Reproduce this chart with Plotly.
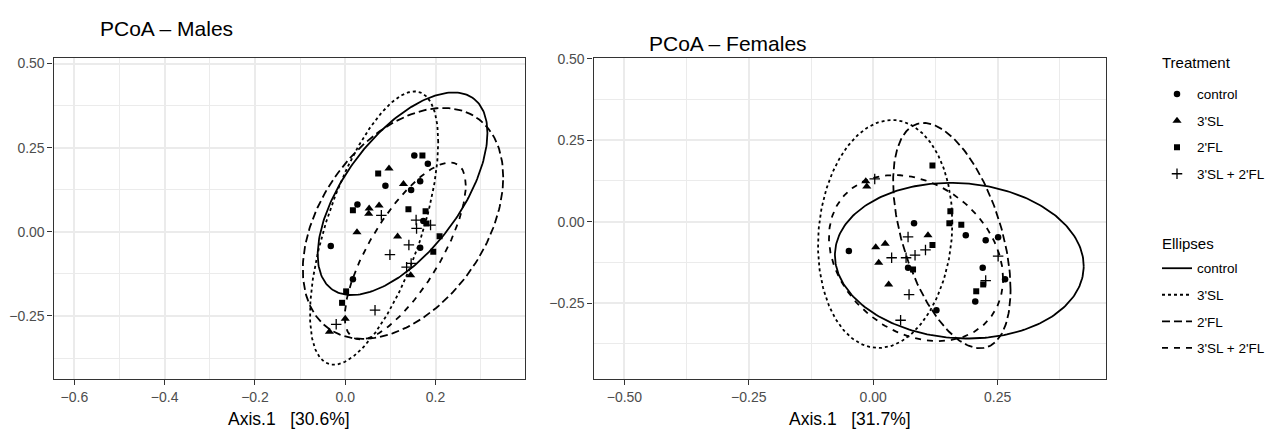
import numpy as np
import plotly.graph_objects as go

TREATMENTS = ["control", "3'SL", "2'FL", "3'SL + 2'FL"]

# ---- Males: PCoA scores (Axis.1, Axis.2) per treatment ----
m_control_x = [0.153, 0.183, 0.089, 0.166, 0.146, 0.027, 0.173, -0.032, 0.166, 0.017]
m_control_y = [0.227, 0.202, 0.137, 0.150, 0.124, 0.081, 0.032, -0.042, -0.047, -0.141]
m_sl_x = [0.097, 0.129, 0.053, 0.052, 0.075, 0.026, 0.116, 0.145, 0.000, -0.035]
m_sl_y = [0.188, 0.142, 0.069, 0.054, 0.078, -0.001, -0.014, -0.129, -0.258, -0.297]
m_fl_x = [0.171, 0.073, 0.017, 0.140, 0.178, 0.180, 0.209, 0.195, 0.002, -0.007]
m_fl_y = [0.227, 0.173, 0.064, 0.067, 0.061, 0.025, -0.013, -0.059, -0.177, -0.211]
m_mix_x = [0.080, 0.157, 0.158, 0.189, 0.141, 0.099, 0.136, 0.146, 0.066, -0.020]
m_mix_y = [0.049, 0.035, 0.010, 0.020, -0.039, -0.068, -0.105, -0.094, -0.233, -0.275]

# ---- Females: PCoA scores (Axis.1, Axis.2) per treatment ----
f_control_x = [0.082, -0.049, 0.186, 0.226, 0.251, 0.220, 0.265, 0.205, 0.127, 0.070]
f_control_y = [-0.005, -0.090, -0.042, -0.057, -0.048, -0.142, -0.177, -0.245, -0.272, -0.142]
f_sl_x = [-0.015, -0.013, 0.005, 0.024, 0.011, 0.031, 0.110]
f_sl_y = [0.124, 0.108, -0.079, -0.068, -0.126, -0.193, -0.042]
f_fl_x = [0.119, 0.155, 0.153, 0.177, 0.119, 0.080, 0.221, 0.207]
f_fl_y = [0.172, 0.032, -0.005, -0.010, -0.072, -0.147, -0.193, -0.214]
f_mix_x = [0.003, 0.070, 0.037, 0.066, 0.084, 0.105, 0.072, 0.055, 0.251, 0.226]
f_mix_y = [0.131, -0.047, -0.111, -0.111, -0.103, -0.087, -0.224, -0.303, -0.106, -0.181]

# ---- 95% ellipses: centre, half-extents and correlation, in TREATMENTS order ----
m_ell_cx = [0.127, 0.064, 0.128, 0.133]
m_ell_cy = [0.113, 0.011, 0.025, -0.057]
m_ell_sx = [0.188, 0.142, 0.222, 0.134]
m_ell_sy = [0.301, 0.406, 0.343, 0.263]
m_ell_rho = [0.60, 0.63, 0.40, 0.74]

f_ell_cx = [0.173, 0.024, 0.158, 0.086]
f_ell_cy = [-0.120, -0.038, -0.043, -0.112]
f_ell_sx = [0.250, 0.135, 0.118, 0.175]
f_ell_sy = [0.239, 0.350, 0.346, 0.255]
f_ell_rho = [-0.07, 0.10, -0.48, -0.25]

# axis labels
m_xtitle = "Axis.1\u00a0\u00a0\u00a0[30.6%]"
f_xtitle = "Axis.1\u00a0\u00a0\u00a0[31.7%]"

FONT = "Liberation Sans, Arial, Helvetica, sans-serif"
SYMBOLS = {"control": "circle", "3'SL": "triangle-up", "2'FL": "square", "3'SL + 2'FL": "cross-thin"}
SIZES = {"control": 6.5, "3'SL": 8, "2'FL": 6, "3'SL + 2'FL": 7.5}
DASHES = {"control": "solid", "3'SL": "3px,3px", "2'FL": "8px,4px", "3'SL + 2'FL": "6px,6px"}


def ellipse_path(cx, cy, sx, sy, rho, n=241):
    t = np.linspace(0, 2 * np.pi, n)
    x = cx + sx * np.cos(t)
    y = cy + sy * (rho * np.cos(t) + np.sqrt(1 - rho ** 2) * np.sin(t))
    return x, y


W, H = 1282, 432
fig = go.Figure()

panels = [
    dict(xa="x", ya="y", legend=True,
         pts=[(m_control_x, m_control_y), (m_sl_x, m_sl_y), (m_fl_x, m_fl_y), (m_mix_x, m_mix_y)],
         ell=(m_ell_cx, m_ell_cy, m_ell_sx, m_ell_sy, m_ell_rho)),
    dict(xa="x2", ya="y2", legend=False,
         pts=[(f_control_x, f_control_y), (f_sl_x, f_sl_y), (f_fl_x, f_fl_y), (f_mix_x, f_mix_y)],
         ell=(f_ell_cx, f_ell_cy, f_ell_sx, f_ell_sy, f_ell_rho)),
]

for p in panels:
    for name, (xs, ys) in zip(TREATMENTS, p["pts"]):
        cross = name == "3'SL + 2'FL"
        fig.add_trace(go.Scatter(
            x=xs, y=ys, mode="markers", name=name, xaxis=p["xa"], yaxis=p["ya"],
            legend="legend", legendgroup="pt_" + name, showlegend=p["legend"],
            marker=dict(symbol=SYMBOLS[name], size=SIZES[name], color="black",
                        line=dict(color="black", width=1.3 if cross else 0)),
            hoverinfo="skip"))
    cxs, cys, sxs, sys_, rhos = p["ell"]
    for i, name in enumerate(TREATMENTS):
        ex, ey = ellipse_path(cxs[i], cys[i], sxs[i], sys_[i], rhos[i])
        fig.add_trace(go.Scatter(
            x=ex, y=ey, mode="lines", name=name, xaxis=p["xa"], yaxis=p["ya"],
            legend="legend2", legendgroup="el_" + name, showlegend=p["legend"],
            line=dict(color="black", width=1.8, dash=DASHES[name]),
            hoverinfo="skip"))

y_dom = [1 - 378 / H, 1 - 52 / H]
axis_common = dict(
    showline=True, mirror=True, linecolor="#333333", linewidth=1.3,
    ticks="outside", ticklen=5, tickwidth=1.3, tickcolor="#333333",
    showgrid=True, gridcolor="#EBEBEB", gridwidth=1.5, zeroline=False,
    tickfont=dict(family=FONT, size=14, color="#4D4D4D"),
    tickmode="array",
)
minor_common = dict(showgrid=True, gridcolor="#EBEBEB", gridwidth=0.9, ticks="")

fig.update_layout(
    xaxis=dict(axis_common, domain=[53.6 / W, 524.9 / W], range=[-0.646, 0.398],
               tickvals=[-0.6, -0.4, -0.2, 0.0, 0.2], tickformat=".1f",
               minor=dict(minor_common, tickvals=[-0.5, -0.3, -0.1, 0.1, 0.3]), anchor="y"),
    yaxis=dict(axis_common, domain=y_dom, range=[-0.437, 0.516],
               tickvals=[-0.25, 0.0, 0.25, 0.5], tickformat=".2f",
               minor=dict(minor_common, tickvals=[-0.375, -0.125, 0.125, 0.375]), anchor="x"),
    xaxis2=dict(axis_common, domain=[593.6 / W, 1105.6 / W], range=[-0.562, 0.467],
                tickvals=[-0.5, -0.25, 0.0, 0.25], tickformat=".2f",
                minor=dict(minor_common, tickvals=[-0.375, -0.125, 0.125, 0.375]), anchor="y2"),
    yaxis2=dict(axis_common, domain=y_dom, range=[-0.483, 0.502],
                tickvals=[-0.25, 0.0, 0.25, 0.5], tickformat=".2f",
                minor=dict(minor_common, tickvals=[-0.375, -0.125, 0.125, 0.375]), anchor="x2"),
)

# legends: entries from the traces, group headings as text above them
legend_common = dict(
    xanchor="left", yanchor="top", bgcolor="rgba(0,0,0,0)", borderwidth=0,
    font=dict(family=FONT, size=13.5, color="black"),
    tracegroupgap=6, traceorder="grouped", itemwidth=30, itemclick=False, itemdoubleclick=False,
)
fig.update_layout(
    legend=dict(legend_common, x=1157 / W, y=1 - 73 / H),
    legend2=dict(legend_common, x=1157 / W, y=1 - 250 / H),
)

annotations = [
    dict(text="PCoA \u2013 Males", x=98 / W, y=1 - 21.5 / H, xanchor="left", yanchor="middle",
         font=dict(family=FONT, size=21, color="black")),
    dict(text="PCoA \u2013 Females", x=647 / W, y=1 - 37 / H, xanchor="left", yanchor="middle",
         font=dict(family=FONT, size=21, color="black")),
    dict(text=m_xtitle, x=289.2 / W, y=1 - 419 / H, xanchor="center", yanchor="middle",
         font=dict(family=FONT, size=17.5, color="black")),
    dict(text=f_xtitle, x=849.6 / W, y=1 - 419 / H, xanchor="center", yanchor="middle",
         font=dict(family=FONT, size=17.5, color="black")),
    dict(text="Treatment", x=1160 / W, y=1 - 56 / H, xanchor="left", yanchor="middle",
         font=dict(family=FONT, size=15, color="black")),
    dict(text="Ellipses", x=1160 / W, y=1 - 240 / H, xanchor="left", yanchor="middle",
         font=dict(family=FONT, size=15, color="black")),
]
for a in annotations:
    a.update(xref="paper", yref="paper", showarrow=False)

fig.update_layout(
    annotations=annotations,
    width=W, height=H, margin=dict(l=0, r=0, t=0, b=0),
    paper_bgcolor="white", plot_bgcolor="white",
    font=dict(family=FONT, color="black"),
    hovermode=False,
)

fig.write_html("out.html", config={"displayModeBar": False})
